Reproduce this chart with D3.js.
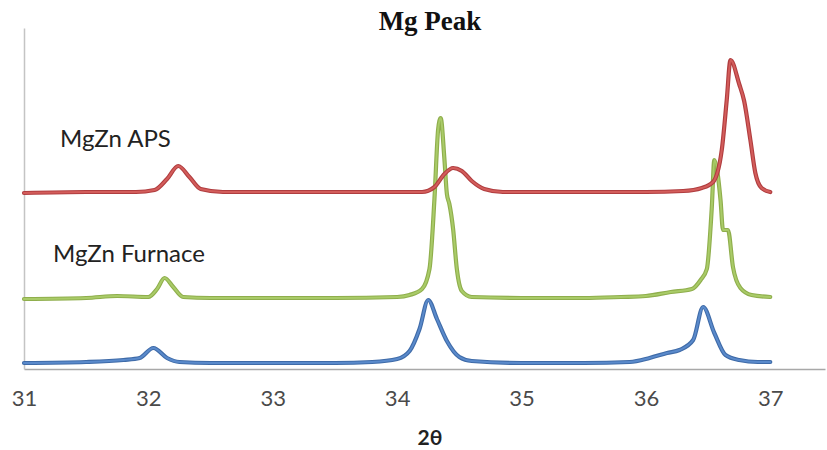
<!DOCTYPE html>
<html>
<head>
<meta charset="utf-8">
<script src="https://cdn.jsdelivr.net/npm/d3@7"></script>
<style>
  body { margin: 0; background: #fff; }
  svg { display: block; }
</style>
</head>
<body>
<svg id="chart" width="827" height="450"></svg>
<script>
// Dati (2theta, intensita arbitraria)
var xTicks = [31, 32, 33, 34, 35, 36, 37];

var apsTheta = [31.0, 31.5, 31.9, 32.05, 32.15, 32.24, 32.33, 32.42, 32.6, 33.0, 33.5, 34.0, 34.2, 34.3, 34.38, 34.45, 34.52, 34.6, 34.7, 34.85, 35.5, 36.0, 36.3, 36.45, 36.54, 36.61, 36.65, 36.68, 36.75, 36.79, 36.84, 36.88, 36.93, 37.0];
var apsInt   = [176, 177, 177, 179, 190, 203, 192, 180, 177, 177, 177, 177, 177, 182, 195, 201, 198, 188, 180, 177, 177, 177, 178, 181, 187, 219, 269, 309, 285, 268, 229, 196, 181, 177];

var furnaceTheta = [31.0, 31.5, 31.75, 32.0, 32.07, 32.13, 32.2, 32.28, 32.5, 33.0, 33.5, 34.0, 34.1, 34.2, 34.26, 34.3, 34.33, 34.35, 34.38, 34.4, 34.42, 34.45, 34.48, 34.52, 34.6, 35.0, 35.5, 35.8, 36.0, 36.2, 36.37, 36.44, 36.49, 36.53, 36.55, 36.6, 36.62, 36.66, 36.7, 36.76, 36.85, 37.0];
var furnaceInt   = [70, 71, 73, 72, 80, 91, 82, 72, 71, 71, 71, 72, 74, 80, 100, 170, 240, 251, 210, 175, 165, 140, 100, 78, 72, 71, 71, 72, 73, 77, 80, 89, 100, 162, 209, 169, 139, 139, 102, 81, 74, 72];

var bulkTheta = [31.0, 31.5, 31.8, 31.93, 32.04, 32.15, 32.25, 32.5, 33.0, 33.5, 33.8, 34.0, 34.1, 34.18, 34.25, 34.32, 34.4, 34.5, 34.6, 35.0, 35.5, 35.87, 36.03, 36.17, 36.27, 36.38, 36.46, 36.55, 36.64, 36.75, 36.9, 37.0];
var bulkInt   = [6, 7, 9, 11, 21, 11, 7, 6, 6, 6, 7, 10, 18, 40, 69, 50, 28, 12, 8, 6, 6, 7, 11, 16, 19, 29, 62, 36, 14, 9, 7, 7];

var seriesNames = ["MgZn APS", "MgZn Furnace", "Mg"];
var edgeColors = ["#b03d3f", "#8fae4c", "#3f6ba8"];
var lineColors = ["#d35d5b", "#a9cb68", "#5a8acb"];

var svg = d3.select("#chart");

var x = d3.scaleLinear().domain([31, 37.44]).range([24, 825]);
var y = d3.scaleLinear().domain([0, 341]).range([369, 28]);

// Titolo
svg.append("text")
    .attr("x", 430).attr("y", 30)
    .attr("text-anchor", "middle")
    .style("font-family", "'Liberation Serif', 'Times New Roman', serif")
    .style("font-weight", "bold")
    .style("font-size", "27px")
    .style("fill", "#111")
    .text("Mg Peak");

// Assi
var xAxis = svg.append("g")
    .attr("transform", "translate(0," + y(0) + ")")
    .call(d3.axisBottom(x).tickValues(xTicks).tickSize(0).tickPadding(21).tickFormat(d3.format("d")));
xAxis.select(".domain").attr("stroke", "#a8a8a8").attr("stroke-width", 1.5);
xAxis.selectAll("text")
    .style("font-family", "Lato, 'Open Sans', sans-serif")
    .style("font-size", "22px")
    .style("fill", "#4a4a4a");

var yAxis = svg.append("g")
    .attr("transform", "translate(" + x(31) + ",0)")
    .call(d3.axisLeft(y).tickValues([]).tickSizeOuter(0));
yAxis.select(".domain").attr("stroke", "#c4c4c4").attr("stroke-width", 1.5);

svg.append("text")
    .attr("x", 430).attr("y", 445)
    .attr("text-anchor", "middle")
    .style("font-family", "Lato, 'Open Sans', sans-serif")
    .style("font-weight", "bold")
    .style("font-size", "21px")
    .style("fill", "#222")
    .text("2θ");

// Linee
var lineGenerator = d3.line()
    .x(function (d) { return x(d[0]); })
    .y(function (d) { return y(d[1]); })
    .curve(d3.curveMonotoneX);

var allSeries = [
    d3.zip(apsTheta, apsInt),
    d3.zip(furnaceTheta, furnaceInt),
    d3.zip(bulkTheta, bulkInt)
];

// disegna dal basso verso l'alto: blu, verde, rosso
[2, 1, 0].forEach(function (i) {
    svg.append("path")
        .attr("d", lineGenerator(allSeries[i]))
        .attr("fill", "none")
        .attr("stroke", edgeColors[i])
        .attr("stroke-width", 4.2)
        .attr("stroke-linejoin", "round")
        .attr("stroke-linecap", "round");
    svg.append("path")
        .attr("d", lineGenerator(allSeries[i]))
        .attr("fill", "none")
        .attr("stroke", lineColors[i])
        .attr("stroke-width", 2)
        .attr("stroke-linejoin", "round")
        .attr("stroke-linecap", "round");
});

// Etichette delle serie
svg.append("text")
    .attr("x", 60).attr("y", 147)
    .style("font-family", "Lato, 'Open Sans', sans-serif")
    .style("font-size", "24px")
    .style("fill", "#222")
    .text(seriesNames[0]);

svg.append("text")
    .attr("x", 53).attr("y", 262)
    .style("font-family", "Lato, 'Open Sans', sans-serif")
    .style("font-size", "24px")
    .style("fill", "#222")
    .text(seriesNames[1]);
</script>
</body>
</html>
